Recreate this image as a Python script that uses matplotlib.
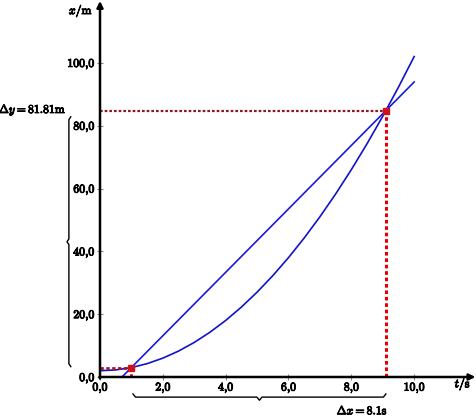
import numpy as np
import matplotlib
matplotlib.use("Agg")
import matplotlib.pyplot as plt
import matplotlib.patheffects as pe

# ---- data ----
curve_t = [0, 0.5, 1, 1.5, 2, 2.5, 3, 3.5, 4, 4.5, 5, 5.5, 6, 6.5, 7, 7.5, 8, 8.5, 9, 9.5, 10]
curve_x = [2.0, 2.25, 3.0, 4.25, 6.0, 8.25, 11.0, 14.25, 18.0, 22.25, 27.0, 32.25, 38.0,
           44.25, 51.0, 58.25, 66.0, 74.25, 83.0, 92.25, 102.0]
secant_t = [0.70, 10.0]
secant_x = [0.0, 93.9]
pts_t = [1.0, 9.1]
pts_x = [3.0, 84.81]
xticks = [0, 2, 4, 6, 8, 10]
xtick_labels = ["0,0", "2,0", "4,0", "6,0", "8,0", "10,0"]
yticks = [0, 20, 40, 60, 80, 100]
ytick_labels = ["0,0", "20,0", "40,0", "60,0", "80,0", "100,0"]
dy_label = r"$\Delta y = 81.81\mathrm{m}$"
dx_label = r"$\Delta x = 8.1\mathrm{s}$"

plt.rcParams['mathtext.fontset'] = 'cm'
plt.rcParams['font.family'] = ['cmr10', 'DejaVu Sans']
plt.rcParams['axes.unicode_minus'] = False

bold = [pe.withStroke(linewidth=0.7, foreground='black')]

W, H = 477, 417
fig = plt.figure(figsize=(W / 100, H / 100), dpi=100)
ax = fig.add_axes([100 / W, 40 / H, 377 / W, 377 / H])
ax.set_xlim(0, 12)
ax.set_ylim(0, 120)
for s in ax.spines.values():
    s.set_visible(False)

# axes with arrows
ax.annotate("", xy=(11.95, 0), xytext=(-0.02, 0),
            arrowprops=dict(arrowstyle="-|>", lw=1.8, color="black",
                            mutation_scale=9, shrinkA=0, shrinkB=0),
            annotation_clip=False, zorder=5)
ax.annotate("", xy=(0, 119.7), xytext=(0, -0.5),
            arrowprops=dict(arrowstyle="-|>", lw=1.8, color="black",
                            mutation_scale=9, shrinkA=0, shrinkB=0),
            annotation_clip=False, zorder=5)

ax.set_xticks(xticks)
ax.set_xticklabels(xtick_labels)
ax.set_yticks(yticks)
ax.set_yticklabels(ytick_labels)
ax.tick_params(axis='both', direction='inout', length=4, width=0.8, color='#888888',
               labelsize=8.5, pad=2)
for lab in ax.get_xticklabels() + ax.get_yticklabels():
    lab.set_path_effects(bold)

# curve and secant
ax.plot(curve_t, curve_x, color='#1212c8', lw=1.2, zorder=3, clip_on=False)
ax.plot(secant_t, secant_x, color='#1a1ad8', lw=1.2, zorder=3, clip_on=False)

# dotted guide lines
ax.plot([0, pts_t[0]], [pts_x[0], pts_x[0]], color='#a01828', lw=2, ls=(0, (1.2, 0.9)), zorder=4)
ax.plot([pts_t[0], pts_t[0]], [0, pts_x[0]], color='#a01828', lw=2, ls=(0, (1.2, 0.9)), zorder=4)
ax.plot([0, pts_t[1]], [pts_x[1], pts_x[1]], color='#8b1a22', lw=1.6, ls=(0, (1.2, 0.9)), zorder=4)
ax.plot([pts_t[1], pts_t[1]], [0, pts_x[1]], color='#e80000', lw=2.2, ls=(0, (1.2, 0.9)), zorder=4)
ax.plot(pts_t, pts_x, ls='none', marker='s', ms=4.5, color='#d0101a', zorder=6)

# braces
def vbrace(x, y0, y1, hook_dx, tip_dx, hook_dy):
    ym = (y0 + y1) / 2
    xs = [x + hook_dx, x, x, x + tip_dx, x, x, x + hook_dx]
    ys = [y0, y0 + hook_dy, ym - hook_dy, ym, ym + hook_dy, y1 - hook_dy, y1]
    ax.plot(xs, ys, color='black', lw=1.0, clip_on=False)

def hbrace(y, x0, x1, hook_dy, tip_dy, hook_dx):
    xm = (x0 + x1) / 2
    xs = [x0, x0 + hook_dx, xm - hook_dx, xm, xm + hook_dx, x1 - hook_dx, x1]
    ys = [y + hook_dy, y, y, y + tip_dy, y, y, y + hook_dy]
    ax.plot(xs, ys, color='black', lw=1.0, clip_on=False)

vbrace(-0.99, pts_x[0] + 0.3, pts_x[1] - 2.0, 0.06, -0.06, 0.9)
hbrace(-6.4, pts_t[0] + 0.05, pts_t[1], 1.0, -1.0, 0.08)

t1 = ax.text(-1.07, 85.0, dy_label, ha='right', va='center', fontsize=8.5)
t2 = ax.text(8.35, -10.6, dx_label, ha='center', va='center', fontsize=8.5)
t3 = ax.text(-0.22, 116.5, r"$x/\mathrm{m}$", ha='right', va='center', fontsize=8.5)
t4 = ax.text(11.55, -2.3, r"$t/\mathrm{s}$", ha='center', va='center', fontsize=8.5)
for t in (t1, t2, t3, t4):
    t.set_path_effects(bold)

fig.savefig("out.png", dpi=100)
